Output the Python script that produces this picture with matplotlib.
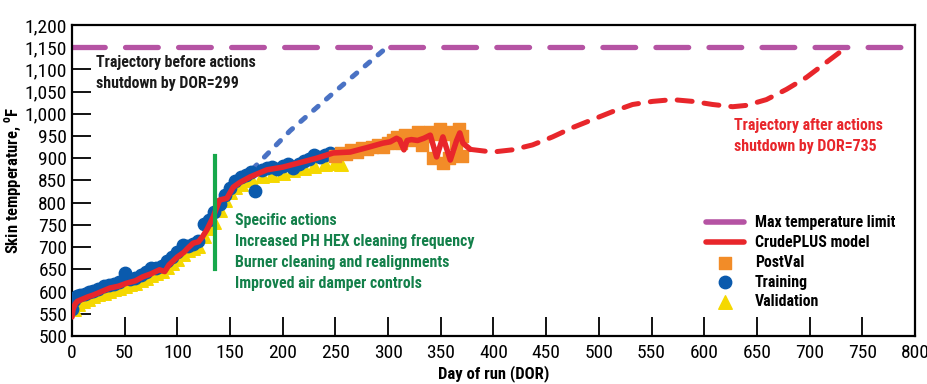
import matplotlib
matplotlib.use("Agg")
from matplotlib import pyplot as plt
from matplotlib import font_manager
from matplotlib.font_manager import FontProperties
from matplotlib.lines import Line2D
import numpy as np

## FONT - look for a condensed face, else Liberation Sans
def find_font(bold):
    prefs = ['RobotoCondensed', 'Roboto_Condensed', 'LiberationSansNarrow', 'DejaVuSansCondensed',
             'OpenSans_Condensed', 'OpenSansCondensed', 'Condensed', 'Narrow']
    files = [f.fname for f in font_manager.fontManager.ttflist]
    for p in prefs:
        for fn in files:
            base = fn.split('/')[-1]
            if p.lower() not in base.replace('-', '').lower() and p.lower() not in base.lower():
                continue
            low = base.lower()
            if 'italic' in low or 'oblique' in low:
                continue
            isbold = 'bold' in low and 'semibold' not in low and 'extrabold' not in low
            if bold == isbold:
                if not bold and any(w in low for w in ['light', 'thin', 'medium', 'black', 'semi', 'extra']):
                    continue
                return fn
    return None

fb = find_font(True)
fr = find_font(False)
if fb and fr:
    FB = FontProperties(fname=fb)
    FR = FontProperties(fname=fr)
    scale = 1.0
else:
    FB = FontProperties(family='Liberation Sans', weight='bold')
    FR = FontProperties(family='Liberation Sans')
    scale = 0.85

## DATA
training_x = [0, 2, 5, 8, 12, 16, 20, 25, 30, 35, 40, 45, 50, 55, 60, 65, 70, 75, 80, 85,
              90, 95, 100, 105, 110, 115, 120, 125, 130, 135, 140, 145, 150, 155, 160, 165,
              170, 174, 180, 185, 190, 195, 200, 205, 210, 215, 220, 225, 230, 235, 240, 245]
training_y = [560, 582, 589, 592, 595, 598, 601, 606, 613, 614, 618, 621, 642, 628, 631, 638,
              643, 654, 653, 658, 668, 678, 688, 704, 702, 708, 714, 752, 762, 778, 798, 818,
              834, 848, 858, 863, 868, 826, 873, 878, 881, 875, 883, 888, 878, 888, 893, 898,
              908, 903, 908, 912]

validation_x = [2, 6, 10, 15, 20, 25, 30, 35, 40, 45, 50, 55, 60, 65, 70, 75, 80, 85, 90, 95,
                100, 105, 110, 115, 120, 125, 130, 135, 140, 145, 150, 155, 160, 165, 170, 180,
                190, 200, 210, 220, 230, 240, 250, 255]
validation_y = [560, 571, 579, 584, 589, 594, 597, 601, 605, 608, 612, 616, 620, 625, 630, 637,
                642, 647, 655, 665, 673, 685, 693, 697, 703, 725, 743, 757, 783, 805, 823, 835,
                843, 850, 853, 860, 863, 867, 873, 877, 883, 887, 890, 888]

postval_x = [250, 255, 260, 265, 270, 275, 280, 285, 290, 295, 300, 305, 308, 312, 316, 320,
             324, 328, 332, 336, 340, 343, 346, 349, 352, 355, 358, 361, 364, 367, 370, 370]
postval_y = [905, 912, 910, 918, 915, 922, 920, 926, 930, 925, 935, 940, 948, 935, 952, 945,
             940, 958, 930, 950, 960, 900, 955, 965, 890, 955, 900, 960, 935, 965, 950, 905]

model_x = [0, 1, 3, 5, 10, 15, 20, 28, 36, 44, 52, 60, 67, 75, 83, 88, 92, 100, 106, 110,
           115, 120, 124, 128, 134, 140, 147, 153, 159, 169, 185, 200, 216, 232, 248, 264,
           280, 295, 302, 308, 311, 315, 318, 322, 328, 334, 340, 346, 352, 359, 365, 368,
           371, 378]
model_y = [543, 560, 572, 578, 583, 588, 592, 600, 608, 612, 619, 624, 633, 640, 649, 645,
           660, 678, 688, 698, 709, 712, 724, 739, 768, 806, 810, 835, 845, 858, 874, 880,
           890, 900, 912, 914, 924, 934, 937, 945, 941, 919, 940, 942, 940, 945, 952, 903,
           948, 896, 940, 957, 934, 920]

after_x = [378, 399, 418, 437, 456, 475, 494, 513, 532, 551, 570, 589, 608, 627, 640, 659,
           678, 697, 716, 735]
after_y = [920, 914, 919, 930, 948, 969, 987, 1005, 1021, 1028, 1032, 1028, 1021, 1016, 1019,
           1032, 1055, 1082, 1116, 1150]

before_x = [160, 207, 251, 299]
before_y = [848, 962, 1053, 1150]

limit = 1150
action_day = 136
action_span = [650, 905]

## PLOT
fig = plt.figure(figsize=(9.27, 3.84), dpi=100)
ax = fig.add_axes([0.0777, 0.125, 0.9093, 0.81])

ax.axhline(limit, color='#b553a3', lw=3.8, dashes=(6.2, 3.85), dash_capstyle='round',
           zorder=2)
ax.plot(before_x, before_y, color='#4a72c4', lw=3.6, dashes=(1.2, 2.2),
        dash_capstyle='round', zorder=2)
ax.plot(after_x, after_y, color='#e8262b', lw=3.6, dashes=(3.0, 2.4),
        dash_capstyle='round', zorder=2)

ax.scatter(validation_x, validation_y, marker='^', s=95, color='#f5d800', zorder=3,
           label='Validation')
ax.scatter(training_x, training_y, marker='o', s=80, color='#0a5aad', zorder=4,
           label='Training')
ax.scatter(postval_x, postval_y, marker='s', s=70, color='#f28c28', zorder=5,
           label='PostVal')
ax.plot(model_x, model_y, color='#e8262b', lw=4, solid_capstyle='round',
        solid_joinstyle='round', zorder=6)

ax.plot([action_day, action_day], action_span, color='#17a84b', lw=3, zorder=7)

FB.set_size(11.4 * scale)
ax.text(23, 1133, 'Trajectory before actions\nshutdown by DOR=299', fontproperties=FB,
        color='#1a1a1a', va='top', linespacing=1.5)
ax.text(155, 777, 'Specific actions\nIncreased PH HEX cleaning frequency\n'
        'Burner cleaning and realignments\nImproved air damper controls',
        fontproperties=FB, color='#13804a', va='top', linespacing=1.5)
ax.text(628, 990, 'Trajectory after actions\nshutdown by DOR=735', fontproperties=FB,
        color='#e8262b', va='top', linespacing=1.5)

## AXES
ax.set_xlim(0, 800)
ax.set_ylim(500, 1200)
ax.set_xticks(np.arange(0, 801, 50))
ax.set_yticks(np.arange(500, 1201, 50))
ax.set_yticklabels([f'{v:,}' for v in range(500, 1201, 50)])
ax.tick_params(direction='in', length=14, width=1.3)
ax.tick_params(axis='x', pad=6)
FR.set_size(14 * scale)
for lab in ax.get_xticklabels() + ax.get_yticklabels():
    lab.set_fontproperties(FR)
for s in ax.spines.values():
    s.set_linewidth(1.6)
FL = FB.copy()
FL.set_size(12 * scale)
ax.set_xlabel('Day of run (DOR)', fontproperties=FL, labelpad=2)
ax.set_ylabel('Skin tempperature, $^{\\mathregular{o}}$F', fontproperties=FL)
ax.yaxis.set_label_coords(-0.058, 0.5)

handles, labels = ax.get_legend_handles_labels()
hmap = dict(zip(labels, handles))
order = ['Max temperature limit', 'CrudePLUS model', 'PostVal', 'Training', 'Validation']
leg_handles = [Line2D([], [], color='#b553a3', lw=4, solid_capstyle='round'),
               Line2D([], [], color='#e8262b', lw=4, solid_capstyle='round'),
               hmap['PostVal'], hmap['Training'], hmap['Validation']]
leg = ax.legend(leg_handles, order, loc='lower right', bbox_to_anchor=(0.99, 0.05),
                frameon=False, prop=FB, handlelength=2.4, labelspacing=0.3,
                borderpad=0.2, handletextpad=0.7)

fig.savefig('out.png', dpi=100)
